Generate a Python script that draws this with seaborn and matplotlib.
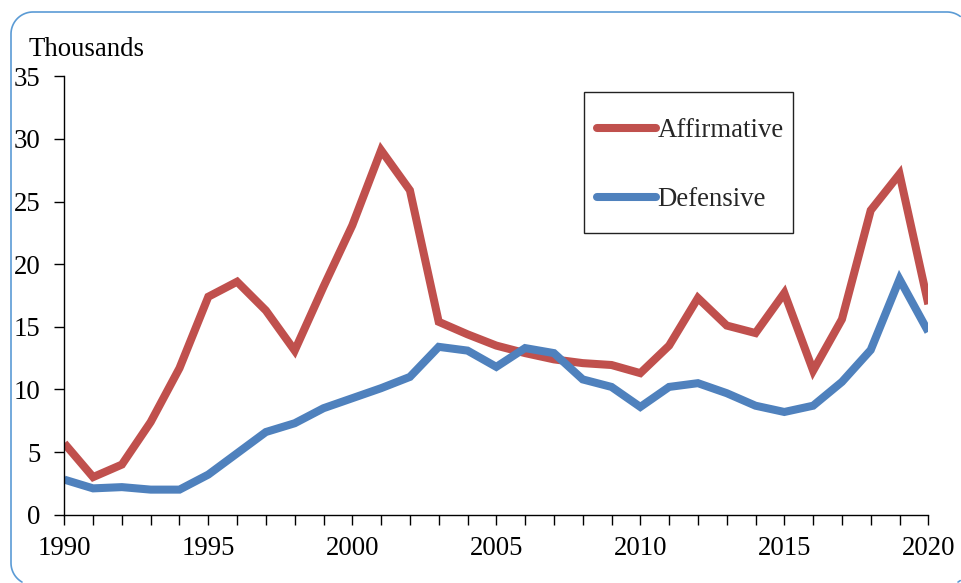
import matplotlib
matplotlib.use("Agg")
import matplotlib.pyplot as plt
import seaborn as sns
import pandas as pd
import numpy as np
from matplotlib.patches import Rectangle
from matplotlib.transforms import Affine2D, Bbox
from matplotlib.lines import Line2D

years = list(range(1990, 2021))
affirmative = [5.7, 3.0, 4.0, 7.4, 11.7, 17.4, 18.6, 16.3, 13.1, 18.2, 23.1,
               29.1, 25.9, 15.4, 14.4, 13.5, 12.9, 12.4, 12.1, 11.95, 11.3,
               13.5, 17.3, 15.1, 14.5, 17.7, 11.5, 15.6, 24.3, 27.2, 16.8]
defensive = [2.8, 2.1, 2.2, 2.0, 2.0, 3.2, 4.9, 6.6, 7.3, 8.5, 9.3,
             10.1, 11.0, 13.4, 13.1, 11.8, 13.3, 12.9, 10.8, 10.2, 8.6,
             10.2, 10.5, 9.7, 8.7, 8.2, 8.7, 10.6, 13.15, 18.8, 14.6]
series_names = ["Affirmative", "Defensive"]
colors = ["#C0504D", "#4F81BD"]
yticks = [0, 5, 10, 15, 20, 25, 30, 35]
xlabels_major = [1990, 1995, 2000, 2005, 2010, 2015, 2020]

df = pd.DataFrame({
    "Year": years * 2,
    "Value": affirmative + defensive,
    "Series": [series_names[0]] * len(years) + [series_names[1]] * len(years),
})

sns.set_theme(style="white")
plt.rcParams["font.family"] = ["Liberation Serif", "DejaVu Serif"]
plt.rcParams["savefig.bbox"] = "standard"

FS = 19.3
W, H = 961, 583
fig = plt.figure(figsize=(W / 100, H / 100), dpi=100)
ax = fig.add_axes([0.0669, 0.1172, 0.8991, 0.7519])

sns.lineplot(data=df, x="Year", y="Value", hue="Series", palette=colors,
             linewidth=5.8, ax=ax, legend=False)
for ln in ax.lines:
    ln.set_solid_joinstyle("miter")
    ln.set_solid_capstyle("butt")

ax.set_xlim(1990, 2020)
ax.set_ylim(0, 35)
ax.set_yticks(yticks)
ax.set_yticklabels([str(v) for v in yticks])
ax.set_xticks(years)
ax.set_xticklabels([str(y) if y in xlabels_major else "" for y in years])
ax.set_xlabel("")
ax.set_ylabel("")

for s in ["top", "right"]:
    ax.spines[s].set_visible(False)
for s in ["left", "bottom"]:
    ax.spines[s].set_color("#000000")
    ax.spines[s].set_linewidth(1.0)

ax.tick_params(axis="both", which="major", direction="out", length=7,
               width=1.0, color="#000000", labelsize=FS, labelcolor="black")
ax.tick_params(axis="y", pad=10, left=True)
ax.tick_params(axis="x", pad=8, bottom=True)

# Legend
handles = [Line2D([0], [0], color=c, lw=5.8, solid_capstyle="round") for c in colors]
leg = ax.legend(handles, series_names, loc="upper left",
                bbox_to_anchor=(0.617, 0.905), frameon=False,
                fontsize=FS, handlelength=2.2, handletextpad=0.05,
                labelspacing=1.65, borderpad=0, borderaxespad=0)
ax.add_patch(Rectangle((0.602, 0.642), 0.241, 0.322, transform=ax.transAxes,
                       fill=False, edgecolor="#222222", linewidth=1.0,
                       zorder=5))

fig.text(29 / W, 1 - 56 / H, "Thousands", fontsize=FS,
         ha="left", va="baseline", color="black")

# Outer rounded frame: only the parts that fall inside the picture
# (pixel units, y measured downward from the top)
R = 22.0
left, top, right, bottom = 11.0, 12.0, 969.0, 585.0
t = np.linspace(0, np.pi / 2, 40)
tr = [(right - R + R * np.sin(a), top + R - R * np.cos(a)) for a in t]
tl = [(left + R - R * np.sin(a), top + R - R * np.cos(a)) for a in t]
bl = [(left + R - R * np.cos(a), bottom - R + R * np.sin(a)) for a in t]
br = [(right - R + R * np.sin(a), bottom - R + R * np.cos(a)) for a in t]


def inside(p):
    return p[0] <= W - 0.6 and p[1] <= H - 0.6


main = [p for p in tr[::-1] + tl + bl if inside(p)]
corner = [p for p in br if inside(p)]
pix = Affine2D().scale(1 / W, 1 / H) + fig.transFigure
for pts in (main, corner):
    if len(pts) > 1:
        fig.add_artist(Line2D([p[0] for p in pts], [H - p[1] for p in pts],
                              transform=pix, color="#5B9BD5",
                              linewidth=1.2, solid_joinstyle="round"))

fig.savefig("out.png", dpi=100,
            bbox_inches=Bbox([[0, 0], [W / 100, H / 100]]))
